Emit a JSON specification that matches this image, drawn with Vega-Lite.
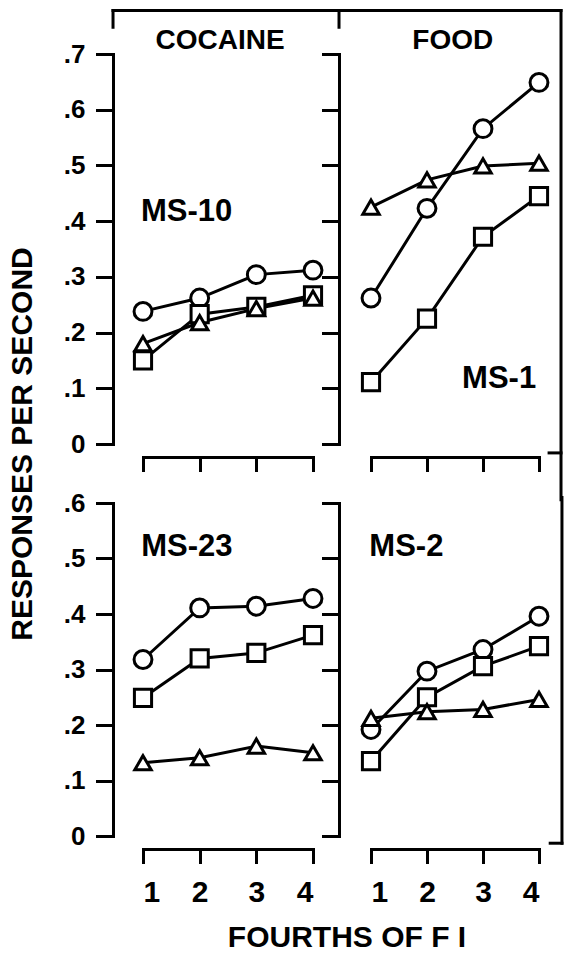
{
  "$schema": "https://vega.github.io/schema/vega-lite/v6.json",
  "background": "white",
  "padding": {"left": 7, "top": 8, "right": 0, "bottom": 0},
  "config": {
    "font": "Liberation Sans",
    "view": {"stroke": null},
    "text": {"font": "Liberation Sans", "fontWeight": "bold", "color": "black"},
    "axis": {
      "grid": false,
      "title": null,
      "domainColor": "black",
      "domainWidth": 3,
      "domainCap": "square",
      "tickColor": "black",
      "tickWidth": 3,
      "tickCap": "square",
      "labelColor": "black",
      "labelFont": "Liberation Sans",
      "labelFontWeight": "bold"
    }
  },
  "datasets": {
    "pts": [
      {"panel": "MS-10", "s": "circle", "f": 1, "r": 0.238},
      {"panel": "MS-10", "s": "circle", "f": 2, "r": 0.262},
      {"panel": "MS-10", "s": "circle", "f": 3, "r": 0.304},
      {"panel": "MS-10", "s": "circle", "f": 4, "r": 0.312},
      {"panel": "MS-10", "s": "square", "f": 1, "r": 0.150},
      {"panel": "MS-10", "s": "square", "f": 2, "r": 0.233},
      {"panel": "MS-10", "s": "square", "f": 3, "r": 0.246},
      {"panel": "MS-10", "s": "square", "f": 4, "r": 0.267},
      {"panel": "MS-10", "s": "triangle", "f": 1, "r": 0.180},
      {"panel": "MS-10", "s": "triangle", "f": 2, "r": 0.218},
      {"panel": "MS-10", "s": "triangle", "f": 3, "r": 0.243},
      {"panel": "MS-10", "s": "triangle", "f": 4, "r": 0.262},
      {"panel": "MS-1", "s": "circle", "f": 1, "r": 0.262},
      {"panel": "MS-1", "s": "circle", "f": 2, "r": 0.423},
      {"panel": "MS-1", "s": "circle", "f": 3, "r": 0.566},
      {"panel": "MS-1", "s": "circle", "f": 4, "r": 0.649},
      {"panel": "MS-1", "s": "square", "f": 1, "r": 0.111},
      {"panel": "MS-1", "s": "square", "f": 2, "r": 0.225},
      {"panel": "MS-1", "s": "square", "f": 3, "r": 0.372},
      {"panel": "MS-1", "s": "square", "f": 4, "r": 0.445},
      {"panel": "MS-1", "s": "triangle", "f": 1, "r": 0.425},
      {"panel": "MS-1", "s": "triangle", "f": 2, "r": 0.474},
      {"panel": "MS-1", "s": "triangle", "f": 3, "r": 0.499},
      {"panel": "MS-1", "s": "triangle", "f": 4, "r": 0.504},
      {"panel": "MS-23", "s": "circle", "f": 1, "r": 0.318},
      {"panel": "MS-23", "s": "circle", "f": 2, "r": 0.411},
      {"panel": "MS-23", "s": "circle", "f": 3, "r": 0.414},
      {"panel": "MS-23", "s": "circle", "f": 4, "r": 0.428},
      {"panel": "MS-23", "s": "square", "f": 1, "r": 0.249},
      {"panel": "MS-23", "s": "square", "f": 2, "r": 0.320},
      {"panel": "MS-23", "s": "square", "f": 3, "r": 0.330},
      {"panel": "MS-23", "s": "square", "f": 4, "r": 0.362},
      {"panel": "MS-23", "s": "triangle", "f": 1, "r": 0.132},
      {"panel": "MS-23", "s": "triangle", "f": 2, "r": 0.141},
      {"panel": "MS-23", "s": "triangle", "f": 3, "r": 0.162},
      {"panel": "MS-23", "s": "triangle", "f": 4, "r": 0.150},
      {"panel": "MS-2", "s": "circle", "f": 1, "r": 0.192},
      {"panel": "MS-2", "s": "circle", "f": 2, "r": 0.297},
      {"panel": "MS-2", "s": "circle", "f": 3, "r": 0.336},
      {"panel": "MS-2", "s": "circle", "f": 4, "r": 0.396},
      {"panel": "MS-2", "s": "square", "f": 1, "r": 0.135},
      {"panel": "MS-2", "s": "square", "f": 2, "r": 0.250},
      {"panel": "MS-2", "s": "square", "f": 3, "r": 0.306},
      {"panel": "MS-2", "s": "square", "f": 4, "r": 0.342},
      {"panel": "MS-2", "s": "triangle", "f": 1, "r": 0.212},
      {"panel": "MS-2", "s": "triangle", "f": 2, "r": 0.224},
      {"panel": "MS-2", "s": "triangle", "f": 3, "r": 0.228},
      {"panel": "MS-2", "s": "triangle", "f": 4, "r": 0.246}
    ]
  },
  "columns": 2,
  "spacing": {"row": 59, "column": 58},
  "bounds": "flush",
  "concat": [
    {
      "width": 170,
      "height": 390,
      "layer": [
        {
          "data": {"name": "pts"},
          "transform": [{"filter": "datum.panel == 'MS-10'"}],
          "mark": {"type": "line", "color": "black", "strokeWidth": 3},
          "encoding": {
            "x": {"field": "f", "type": "quantitative", "scale": {"domain": [1, 4], "nice": false, "zero": false},
                  "axis": {"values": [1, 2, 3, 4], "offset": 13, "tickSize": 13, "labels": false}},
            "y": {"field": "r", "type": "quantitative", "scale": {"domain": [0, 0.7], "nice": false},
                  "axis": {"values": [0, 0.1, 0.2, 0.3, 0.4, 0.5, 0.6, 0.7], "offset": 30, "tickSize": 16, "labelPadding": 12, "labelFontSize": 26,
                           "labelExpr": "datum.value == 0 ? '0' : replace(format(datum.value, '.1f'), '0.', '.')"}},
            "detail": {"field": "s"}
          }
        },
        {
          "data": {"name": "pts"},
          "transform": [{"filter": "datum.panel == 'MS-10'"}],
          "mark": {"type": "point", "filled": true, "fill": "white", "stroke": "black", "strokeWidth": 3, "opacity": 1},
          "encoding": {
            "x": {"field": "f", "type": "quantitative"},
            "y": {"field": "r", "type": "quantitative"},
            "shape": {"field": "s", "type": "nominal", "scale": {"domain": ["circle", "square", "triangle"], "range": ["circle", "square", "triangle-up"]}, "legend": null},
            "size": {"field": "s", "type": "ordinal", "scale": {"domain": ["circle", "square", "triangle"], "range": [320, 270, 440]}, "legend": null}
          }
        },
        {
          "data": {"values": [{"label": "MS-10"}]},
          "mark": {"type": "text", "fontSize": 31, "align": "left", "baseline": "alphabetic"},
          "encoding": {"x": {"datum": 0.965}, "y": {"datum": 0.4}, "text": {"field": "label"}}
        },
        {
          "data": {"values": [{"label": "COCAINE"}]},
          "mark": {"type": "text", "fontSize": 28, "align": "center", "baseline": "alphabetic"},
          "encoding": {"x": {"datum": 2.36}, "y": {"datum": 0.709}, "text": {"field": "label"}}
        },
        {
          "data": {"values": [{"label": "RESPONSES PER SECOND"}]},
          "mark": {"type": "text", "fontSize": 30, "angle": 270, "align": "center", "baseline": "middle"},
          "encoding": {"x": {"datum": -1.118}, "y": {"datum": 0.0}, "text": {"field": "label"}}
        },
        {
          "data": {"values": [{"a": 0.471, "b": 4.459, "c": 0.778, "d": 0.778}, {"a": 0.471, "b": 0.471, "c": 0.778, "d": 0.748}, {"a": 4.459, "b": 4.459, "c": 0.778, "d": 0.748}]},
          "mark": {"type": "rule", "color": "black", "strokeWidth": 3, "strokeCap": "square"},
          "encoding": {"x": {"field": "a", "type": "quantitative"}, "x2": {"field": "b"}, "y": {"field": "c", "type": "quantitative"}, "y2": {"field": "d"}}
        }
      ]
    },
    {
      "width": 168,
      "height": 390,
      "layer": [
        {
          "data": {"name": "pts"},
          "transform": [{"filter": "datum.panel == 'MS-1'"}],
          "mark": {"type": "line", "color": "black", "strokeWidth": 3},
          "encoding": {
            "x": {"field": "f", "type": "quantitative", "scale": {"domain": [1, 4], "nice": false, "zero": false},
                  "axis": {"values": [1, 2, 3, 4], "offset": 13, "tickSize": 13, "labels": false}},
            "y": {"field": "r", "type": "quantitative", "scale": {"domain": [0, 0.7], "nice": false},
                  "axis": {"values": [0, 0.1, 0.2, 0.3, 0.4, 0.5, 0.6, 0.7], "offset": 32, "tickSize": 16, "labels": false}},
            "detail": {"field": "s"}
          }
        },
        {
          "data": {"name": "pts"},
          "transform": [{"filter": "datum.panel == 'MS-1'"}],
          "mark": {"type": "point", "filled": true, "fill": "white", "stroke": "black", "strokeWidth": 3, "opacity": 1},
          "encoding": {
            "x": {"field": "f", "type": "quantitative"},
            "y": {"field": "r", "type": "quantitative"},
            "shape": {"field": "s", "type": "nominal", "scale": {"domain": ["circle", "square", "triangle"], "range": ["circle", "square", "triangle-up"]}, "legend": null},
            "size": {"field": "s", "type": "ordinal", "scale": {"domain": ["circle", "square", "triangle"], "range": [320, 270, 440]}, "legend": null}
          }
        },
        {
          "data": {"values": [{"label": "MS-1"}]},
          "mark": {"type": "text", "fontSize": 31, "align": "right", "baseline": "alphabetic"},
          "encoding": {"x": {"datum": 3.95}, "y": {"datum": 0.1}, "text": {"field": "label"}}
        },
        {
          "data": {"values": [{"label": "FOOD"}]},
          "mark": {"type": "text", "fontSize": 28, "align": "center", "baseline": "alphabetic"},
          "encoding": {"x": {"datum": 2.46}, "y": {"datum": 0.709}, "text": {"field": "label"}}
        },
        {
          "data": {"values": [{"a": 0.429, "b": 4.393, "c": 0.778, "d": 0.778}, {"a": 4.393, "b": 4.393, "c": 0.778, "d": -0.1}, {"a": 4.18, "b": 4.393, "c": -0.016, "d": -0.016}]},
          "mark": {"type": "rule", "color": "black", "strokeWidth": 3, "strokeCap": "square"},
          "encoding": {"x": {"field": "a", "type": "quantitative"}, "x2": {"field": "b"}, "y": {"field": "c", "type": "quantitative"}, "y2": {"field": "d"}}
        }
      ]
    },
    {
      "width": 170,
      "height": 333,
      "layer": [
        {
          "data": {"name": "pts"},
          "transform": [{"filter": "datum.panel == 'MS-23'"}],
          "mark": {"type": "line", "color": "black", "strokeWidth": 3},
          "encoding": {
            "x": {"field": "f", "type": "quantitative", "scale": {"domain": [1, 4], "nice": false, "zero": false},
                  "axis": {"values": [1, 2, 3, 4], "offset": 13, "tickSize": 13, "labelPadding": 15, "labelFontSize": 30, "format": "d"}},
            "y": {"field": "r", "type": "quantitative", "scale": {"domain": [0, 0.6], "nice": false},
                  "axis": {"values": [0, 0.1, 0.2, 0.3, 0.4, 0.5, 0.6], "offset": 30, "tickSize": 16, "labelPadding": 12, "labelFontSize": 26,
                           "labelExpr": "datum.value == 0 ? '0' : replace(format(datum.value, '.1f'), '0.', '.')"}},
            "detail": {"field": "s"}
          }
        },
        {
          "data": {"name": "pts"},
          "transform": [{"filter": "datum.panel == 'MS-23'"}],
          "mark": {"type": "point", "filled": true, "fill": "white", "stroke": "black", "strokeWidth": 3, "opacity": 1},
          "encoding": {
            "x": {"field": "f", "type": "quantitative"},
            "y": {"field": "r", "type": "quantitative"},
            "shape": {"field": "s", "type": "nominal", "scale": {"domain": ["circle", "square", "triangle"], "range": ["circle", "square", "triangle-up"]}, "legend": null},
            "size": {"field": "s", "type": "ordinal", "scale": {"domain": ["circle", "square", "triangle"], "range": [320, 270, 440]}, "legend": null}
          }
        },
        {
          "data": {"values": [{"label": "MS-23"}]},
          "mark": {"type": "text", "fontSize": 31, "align": "left", "baseline": "alphabetic"},
          "encoding": {"x": {"datum": 0.97}, "y": {"datum": 0.505}, "text": {"field": "label"}}
        },
        {
          "data": {"values": [{"label": "FOURTHS OF F I"}]},
          "mark": {"type": "text", "fontSize": 30, "align": "center", "baseline": "alphabetic"},
          "encoding": {"x": {"datum": 4.6}, "y": {"datum": -0.2}, "text": {"field": "label"}}
        }
      ]
    },
    {
      "width": 168,
      "height": 333,
      "layer": [
        {
          "data": {"name": "pts"},
          "transform": [{"filter": "datum.panel == 'MS-2'"}],
          "mark": {"type": "line", "color": "black", "strokeWidth": 3},
          "encoding": {
            "x": {"field": "f", "type": "quantitative", "scale": {"domain": [1, 4], "nice": false, "zero": false},
                  "axis": {"values": [1, 2, 3, 4], "offset": 13, "tickSize": 13, "labelPadding": 15, "labelFontSize": 30, "format": "d"}},
            "y": {"field": "r", "type": "quantitative", "scale": {"domain": [0, 0.6], "nice": false},
                  "axis": {"values": [0, 0.1, 0.2, 0.3, 0.4, 0.5, 0.6], "offset": 32, "tickSize": 16, "labels": false}},
            "detail": {"field": "s"}
          }
        },
        {
          "data": {"name": "pts"},
          "transform": [{"filter": "datum.panel == 'MS-2'"}],
          "mark": {"type": "point", "filled": true, "fill": "white", "stroke": "black", "strokeWidth": 3, "opacity": 1},
          "encoding": {
            "x": {"field": "f", "type": "quantitative"},
            "y": {"field": "r", "type": "quantitative"},
            "shape": {"field": "s", "type": "nominal", "scale": {"domain": ["circle", "square", "triangle"], "range": ["circle", "square", "triangle-up"]}, "legend": null},
            "size": {"field": "s", "type": "ordinal", "scale": {"domain": ["circle", "square", "triangle"], "range": [320, 270, 440]}, "legend": null}
          }
        },
        {
          "data": {"values": [{"label": "MS-2"}]},
          "mark": {"type": "text", "fontSize": 31, "align": "left", "baseline": "alphabetic"},
          "encoding": {"x": {"datum": 0.97}, "y": {"datum": 0.505}, "text": {"field": "label"}}
        },
        {
          "data": {"values": [{"a": 4.41, "b": 4.41, "c": 0.61, "d": -0.013}, {"a": 4.2, "b": 4.41, "c": -0.013, "d": -0.013}]},
          "mark": {"type": "rule", "color": "black", "strokeWidth": 3, "strokeCap": "square"},
          "encoding": {"x": {"field": "a", "type": "quantitative"}, "x2": {"field": "b"}, "y": {"field": "c", "type": "quantitative"}, "y2": {"field": "d"}}
        }
      ]
    }
  ]
}
